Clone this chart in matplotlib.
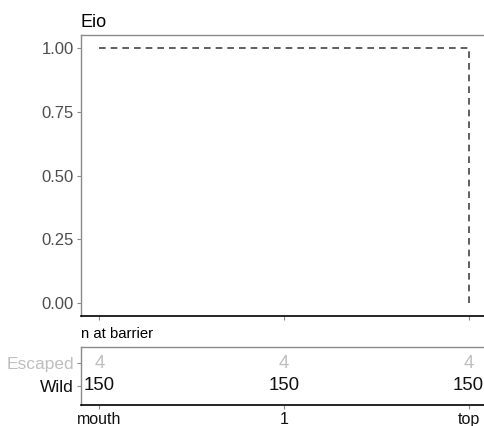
import matplotlib
matplotlib.use("Agg")
import matplotlib.pyplot as plt

plt.rcParams['font.family'] = ['Liberation Sans', 'DejaVu Sans']

title = "Eio"
x_pos = [0, 1, 2]
x_labels = ["mouth", "1", "top"]
step_x = [0, 1, 2, 2]
step_y = [1.0, 1.0, 1.0, 0.0]
y_ticks = [0.00, 0.25, 0.50, 0.75, 1.00]
y_ticklabels = ["0.00", "0.25", "0.50", "0.75", "1.00"]
groups = ["Wild", "Escaped"]
n_wild = [150, 150, 150]
n_escaped = [4, 4, 4]
table_title = "n at barrier"

W, H = 484, 426
fig = plt.figure(figsize=(W / 100, H / 100), dpi=100)

def ax_rect(l, t, r, b):
    return [l / W, 1 - b / H, (r - l) / W, (b - t) / H]

border_col = "#8a8a8a"

ax = fig.add_axes(ax_rect(81, 35, 487, 316))
ax.plot(step_x, step_y, linestyle=(0, (4, 3)), color="#444444", linewidth=1.2)
ax.set_xlim(-0.1, 2.1)
ax.set_ylim(-0.05, 1.05)
ax.set_yticks(y_ticks)
ax.set_yticklabels(y_ticklabels, fontsize=12, color="#4d4d4d")
ax.set_xticks(x_pos)
ax.set_xticklabels([])
ax.tick_params(axis='both', length=3, color=border_col, width=0.8, pad=2)
for s in ['left', 'top', 'right']:
    ax.spines[s].set_color(border_col)
    ax.spines[s].set_linewidth(1.0)
ax.spines['bottom'].set_color("#000000")
ax.spines['bottom'].set_linewidth(1.2)
ax.text(0, 1.015, title, transform=ax.transAxes, fontsize=13, ha='left', va='bottom')

tx = fig.add_axes(ax_rect(81, 347, 487, 405))
tx.set_xlim(-0.1, 2.1)
tx.set_ylim(0.17, 2.70)
for xi, v in zip(x_pos, n_wild):
    tx.text(xi, 1, str(v), ha='center', va='center', fontsize=13.4, color="#111111")
for xi, v in zip(x_pos, n_escaped):
    tx.text(xi, 2, str(v), ha='center', va='center', fontsize=13.4, color="#bebebe")
tx.set_yticks([1, 2])
tx.set_yticklabels(groups, fontsize=12.5)
tx.get_yticklabels()[0].set_color("#111111")
tx.get_yticklabels()[1].set_color("#bebebe")
tx.set_xticks(x_pos)
tx.set_xticklabels(x_labels, fontsize=11.5, color="#111111")
tx.tick_params(axis='both', length=3, color=border_col, width=0.8, pad=2)
for s in ['left', 'top', 'right']:
    tx.spines[s].set_color(border_col)
    tx.spines[s].set_linewidth(1.0)
tx.spines['bottom'].set_color("#000000")
tx.spines['bottom'].set_linewidth(1.2)
tx.text(0, 1.1, table_title, transform=tx.transAxes, fontsize=10.7, ha='left', va='bottom')

fig.savefig("out.png", dpi=100)
